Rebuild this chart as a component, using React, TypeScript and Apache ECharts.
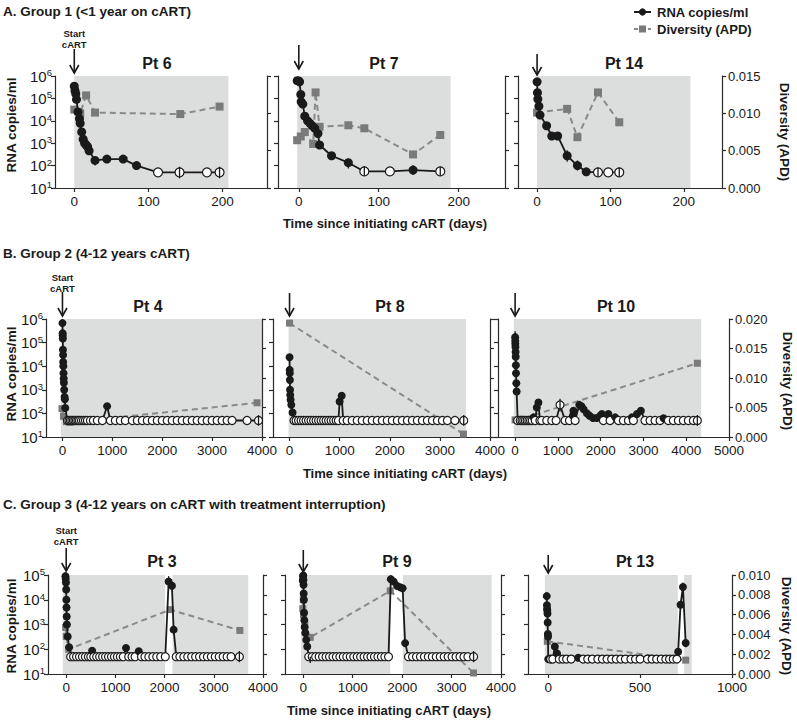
import React, { useEffect, useRef } from "react";
import * as echarts from "echarts";

type Rna = [number, number, number]; // day, copies/ml, detected(1)/undetectable(0)
type Div = [number, number]; // day, APD
type Err = [number, number, number]; // day, low, high
type Band = [number, number]; // on-cART period [start, end] in days

// ---------------- DATA ----------------
const ticksGroup1 = [0, 100, 200];
const ticks4000 = [0, 1000, 2000, 3000, 4000];
const ticks5000 = [0, 1000, 2000, 3000, 4000, 5000];
const ticks1000 = [0, 500, 1000];

// Pt 6
const pt6Rna: Rna[] = [
  [0, 3.5e5, 1], [1, 2.2e5, 1], [2, 1.6e5, 1], [3, 9e4, 1], [5, 2.5e4, 1], [7, 1.25e4, 1],
  [8, 7.7e3, 1], [10, 3.2e3, 1], [12, 1.5e3, 1], [14, 1e3, 1], [16, 830, 1], [18, 700, 1],
  [20, 460, 1], [28, 170, 1], [44, 195, 1], [66, 195, 1], [84, 100, 1], [113, 50, 0],
  [142, 50, 0], [179, 50, 0], [196, 50, 0],
];
const pt6Div: Div[] = [[0, 0.0105], [8, 0.01], [16, 0.0124], [28, 0.0101], [143, 0.0099], [196, 0.0109]];
const pt6Err: Err[] = [[28, 100, 180], [142, 27, 89], [196, 27, 89]];
const pt6Shade: Band[] = [[0, 208]];

// Pt 7
const pt7Rna: Rna[] = [
  [-2, 6.2e5, 1], [0, 6e5, 1], [1, 5.5e5, 1], [2.5, 1.5e5, 1], [3, 7e4, 1], [5, 5.6e4, 1],
  [7.5, 1.6e4, 1], [11, 1e4, 1], [14, 7.7e3, 1], [17, 5.9e3, 1], [20, 4.6e3, 1], [24, 2.7e3, 1],
  [26, 830, 1], [41, 275, 1], [62, 135, 1], [82, 55, 0], [114, 55, 0], [143, 63, 1], [177, 55, 0],
];
const pt7Div: Div[] = [
  [-2, 0.0064], [2.5, 0.0069], [7.5, 0.0075], [18, 0.0059], [21, 0.0128], [26, 0.0082],
  [62, 0.0084], [82, 0.008], [143, 0.0045], [177, 0.0071],
];
const pt7Err: Err[] = [[62, 75, 210], [82, 35, 95], [143, 38, 105], [177, 35, 90]];
const pt7Shade: Band[] = [[-2, 190]];

// Pt 14
const pt14Rna: Rna[] = [
  [0, 5.5e5, 1], [0.5, 1.8e5, 1], [1, 9.3e4, 1], [2.5, 4.5e4, 1], [4, 1.8e4, 1], [13, 6e3, 1],
  [20, 2.1e3, 1], [28, 2.1e3, 1], [41, 275, 1], [55, 100, 1], [67, 53, 1], [83, 50, 0],
  [97, 50, 0], [112, 50, 0],
];
const pt14Div: Div[] = [[0, 0.0101], [41, 0.0106], [55, 0.0068], [83, 0.0128], [112, 0.0088]];
const pt14Err: Err[] = [[41, 150, 480], [55, 60, 170], [83, 32, 80], [112, 32, 80]];
const pt14Shade: Band[] = [[0, 209]];

// Pt 4
const pt4Rna: Rna[] = [
  [0, 6.7e5, 1], [3, 2.5e5, 1], [5, 2e5, 1], [7, 1.5e5, 1], [10, 5e4, 1], [12, 3e4, 1],
  [14, 1.5e4, 1], [17, 1e4, 1], [21, 5e3, 1], [24, 3e3, 1], [28, 2e3, 1], [35, 1e3, 1],
  [42, 500, 1], [49, 400, 1], [56, 170, 1], [100, 50, 0], [130, 50, 0], [160, 50, 0],
  [190, 50, 0], [220, 50, 0], [250, 50, 0], [280, 50, 0], [310, 50, 0], [340, 50, 0],
  [380, 50, 0], [420, 50, 0], [460, 50, 0], [500, 50, 0], [560, 50, 0], [620, 50, 0],
  [700, 50, 0], [800, 50, 0], [895, 200, 1], [960, 50, 0], [1060, 50, 0], [1160, 50, 0],
  [1260, 50, 0], [1400, 50, 0], [1500, 50, 0], [1600, 50, 0], [1700, 50, 0], [1800, 50, 0],
  [1900, 50, 0], [2000, 50, 0], [2100, 50, 0], [2200, 50, 0], [2300, 50, 0], [2400, 50, 0],
  [2500, 50, 0], [2600, 50, 0], [2700, 50, 0], [2800, 50, 0], [2900, 50, 0], [3000, 50, 0],
  [3100, 50, 0], [3200, 50, 0], [3300, 50, 0], [3400, 50, 0], [3700, 50, 0], [3930, 50, 0],
];
const pt4Div: Div[] = [[-10, 0.0048], [20, 0.0035], [80, 0.0026], [150, 0.0025], [3900, 0.0058]];
const pt4Err: Err[] = [[3930, 30, 85]];
const pt4Shade: Band[] = [[-33, 4000]];

// Pt 8
const pt8Rna: Rna[] = [
  [0, 2.4e4, 1], [3, 7e3, 1], [5, 5e3, 1], [7, 2.6e3, 1], [10, 1e3, 1], [14, 600, 1],
  [21, 380, 1], [35, 230, 1], [60, 110, 1], [90, 50, 0], [130, 50, 0], [180, 50, 0],
  [230, 50, 0], [280, 50, 0], [330, 50, 0], [380, 50, 0], [430, 50, 0], [480, 50, 0],
  [530, 50, 0], [580, 50, 0], [630, 50, 0], [680, 50, 0], [730, 50, 0], [780, 50, 0],
  [830, 50, 0], [880, 50, 0], [930, 50, 0], [975, 50, 0], [1000, 320, 1], [1040, 560, 1],
  [1070, 50, 0], [1150, 50, 0], [1250, 50, 0], [1350, 50, 0], [1450, 50, 0], [1550, 50, 0],
  [1650, 50, 0], [1750, 50, 0], [1850, 50, 0], [1950, 50, 0], [2050, 50, 0], [2150, 50, 0],
  [2250, 50, 0], [2350, 50, 0], [2450, 50, 0], [2550, 50, 0], [2650, 50, 0], [2750, 50, 0],
  [2850, 50, 0], [2950, 50, 0], [3050, 50, 0], [3150, 50, 0], [3300, 50, 0], [3476, 50, 0],
];
const pt8Div: Div[] = [[0, 0.0193], [3470, 0.0005]];
const pt8Err: Err[] = [[3476, 30, 85]];
const pt8Shade: Band[] = [[-20, 3520]];

// Pt 10
const pt10Rna: Rna[] = [
  [0, 1.7e5, 1], [3, 1.2e5, 1], [5, 9e4, 1], [7, 6.5e4, 1], [10, 4e4, 1], [14, 2.5e4, 1],
  [18, 1.1e4, 1], [21, 5e3, 1], [28, 1.9e3, 1], [35, 850, 1], [60, 50, 0], [120, 50, 0],
  [160, 50, 0], [200, 50, 0], [240, 50, 0], [280, 50, 0], [320, 50, 0], [360, 50, 0],
  [400, 50, 0], [430, 68, 1], [470, 50, 0], [507, 180, 1], [545, 290, 1], [580, 50, 0],
  [623, 50, 0], [740, 50, 0], [857, 50, 0], [958, 50, 0], [1050, 230, 0], [1168, 50, 0],
  [1270, 50, 0], [1350, 80, 1], [1363, 130, 1], [1402, 50, 0], [1500, 230, 1], [1550, 200, 1],
  [1600, 150, 1], [1680, 100, 1], [1740, 80, 1], [1820, 64, 1], [1910, 64, 1], [1990, 80, 1],
  [2030, 94, 1], [2064, 50, 0], [2180, 94, 1], [2220, 50, 0], [2340, 68, 1], [2415, 50, 0],
  [2531, 50, 0], [2648, 50, 0], [2730, 68, 1], [2765, 50, 0], [2850, 94, 1], [2940, 130, 1],
  [3037, 50, 0], [3154, 50, 0], [3271, 50, 0], [3388, 50, 0], [3470, 62, 1], [3582, 50, 0],
  [3699, 50, 0], [3816, 50, 0], [3933, 50, 0], [4050, 50, 0], [4167, 50, 0], [4260, 50, 0],
];
const pt10Div: Div[] = [[0, 0.0029], [130, 0.003], [4260, 0.0125]];
const pt10Err: Err[] = [[0, 1.7e5, 3e5], [1050, 120, 420], [4260, 30, 85]];
const pt10Shade: Band[] = [[-30, 4350]];

// Pt 3
const pt3Rna: Rna[] = [
  [-15, 9e4, 1], [-10, 7e4, 1], [-5, 5e4, 1], [0, 2.6e4, 1], [3, 1e4, 1], [6, 4.9e3, 1],
  [10, 2.1e3, 1], [14, 1e3, 1], [30, 330, 1], [60, 120, 1], [90, 50, 0], [150, 50, 0],
  [210, 50, 0], [270, 50, 0], [330, 50, 0], [390, 50, 0], [450, 50, 0], [500, 50, 0],
  [527, 87, 1], [560, 50, 0], [620, 50, 0], [680, 50, 0], [740, 50, 0], [800, 50, 0],
  [860, 50, 0], [920, 50, 0], [980, 50, 0], [1040, 50, 0], [1100, 50, 0], [1160, 50, 0],
  [1216, 112, 1], [1270, 50, 0], [1338, 50, 0], [1400, 50, 0], [1474, 83, 1], [1530, 50, 0],
  [1600, 50, 0], [1680, 50, 0], [1760, 50, 0], [1840, 50, 0], [1920, 50, 0], [2014, 50, 0],
  [2082, 5.5e4, 1], [2149, 3.7e4, 1], [2183, 620, 1], [2237, 50, 0], [2310, 50, 0], [2390, 50, 0],
  [2470, 50, 0], [2550, 50, 0], [2630, 50, 0], [2710, 50, 0], [2790, 50, 0], [2870, 50, 0],
  [2950, 50, 0], [3030, 50, 0], [3110, 50, 0], [3190, 50, 0], [3270, 50, 0], [3350, 50, 0],
  [3520, 50, 0],
];
const pt3Div: Div[] = [[-12, 0.0047], [0, 0.0038], [50, 0.0025], [2115, 0.0065], [3530, 0.0044]];
const pt3Err: Err[] = [[2082, 5.5e4, 9e4], [3520, 30, 85]];
const pt3Shade: Band[] = [[-69, 2010], [2160, 3700]];

// Pt 9
const pt9Rna: Rna[] = [
  [-10, 6e4, 1], [-5, 9e4, 1], [0, 9.5e4, 1], [3, 6.3e4, 1], [5, 4e4, 1], [8, 1.8e4, 1],
  [12, 1e4, 1], [16, 3e3, 1], [21, 1.5e3, 1], [28, 780, 1], [40, 450, 1], [60, 240, 1],
  [80, 130, 1], [110, 50, 0], [180, 50, 0], [250, 50, 0], [320, 50, 0], [390, 50, 0],
  [460, 50, 0], [530, 50, 0], [600, 50, 0], [670, 50, 0], [740, 50, 0], [810, 50, 0],
  [880, 50, 0], [950, 50, 0], [1020, 50, 0], [1090, 50, 0], [1160, 50, 0], [1230, 50, 0],
  [1300, 50, 0], [1370, 50, 0], [1440, 50, 0], [1510, 50, 0], [1580, 50, 0], [1650, 50, 0],
  [1724, 50, 0], [1771, 6.7e4, 1], [1830, 5.4e4, 1], [1900, 3.6e4, 1], [1960, 3.2e4, 1],
  [2010, 2.9e4, 1], [2060, 177, 1], [2128, 50, 0], [2210, 50, 0], [2290, 50, 0], [2370, 50, 0],
  [2450, 50, 0], [2530, 50, 0], [2610, 50, 0], [2690, 50, 0], [2770, 50, 0], [2850, 50, 0],
  [2930, 50, 0], [3010, 50, 0], [3090, 50, 0], [3170, 50, 0], [3250, 50, 0], [3330, 50, 0],
  [3445, 50, 0],
];
const pt9Div: Div[] = [
  [-10, 0.0066], [0, 0.0075], [5, 0.006], [30, 0.005], [141, 0.0037], [1760, 0.0084], [3445, 0.0001],
];
const pt9Err: Err[] = [[141, 28, 50], [1771, 6.7e4, 1e5], [3445, 30, 85]];
const pt9Shade: Band[] = [[-47, 1758], [2014, 3812]];

// Pt 13
const pt13Rna: Rna[] = [
  [-8, 1.4e4, 1], [-7, 6e3, 1], [-6, 4.3e3, 1], [-5, 3.7e3, 1], [-4, 2.8e3, 1], [-3, 1.2e3, 1],
  [-2, 410, 1], [-1, 330, 1], [0, 40, 1], [13, 40, 0], [25, 40, 0], [36, 130, 1], [48, 68, 1],
  [60, 40, 0], [80, 40, 0], [100, 40, 0], [125, 40, 0], [163, 45, 1], [190, 40, 0], [215, 40, 0],
  [240, 40, 0], [270, 40, 0], [295, 40, 0], [320, 40, 0], [345, 40, 0], [370, 40, 0],
  [395, 40, 0], [420, 40, 0], [450, 40, 0], [475, 40, 0], [500, 40, 0], [540, 40, 0],
  [565, 40, 0], [590, 40, 0], [615, 40, 0], [640, 40, 0], [660, 40, 0], [680, 40, 0],
  [700, 40, 0], [707, 79, 1], [720, 6.3e3, 1], [733, 3.3e4, 1], [748, 178, 1],
];
const pt13Div: Div[] = [[-5, 0.0033], [748, 0.0014]];
const pt13Err: Err[] = [[733, 3.3e4, 5e4], [748, 120, 270]];
const pt13Shade: Band[] = [[-18, 705], [740, 781]];

// ---------------- LAYOUT ----------------
const FONT = "'Liberation Sans', Arial, Helvetica, sans-serif";
const INK = "#1a1a1a";
const AXIS = "#2a2a2a";
const SHADE = "#dcdddd";
const DIV_LINE = "#8a8a8a";
const DIV_MARK = "#7a7a7a";

const rows = [
  { top: 76, height: 112, logMax: 1e6, divMax: 0.015, divStep: 0.005, dot: 9, sq: 8, titleY: 63 },
  { top: 319, height: 118, logMax: 1e6, divMax: 0.02, divStep: 0.005, dot: 8, sq: 7, titleY: 306 },
  { top: 575, height: 99, logMax: 1e5, divMax: 0.01, divStep: 0.002, dot: 8, sq: 7, titleY: 561 },
];

const panels = [
  { row: 0, col: 0, left: 55, right: 267, xMin: -26, xMax: 260, ticks: ticksGroup1, title: "Pt 6", titleX: 157, arrow: [49, 73], rna: pt6Rna, div: pt6Div, err: pt6Err, shade: pt6Shade },
  { row: 0, col: 1, left: 278, right: 505, xMin: -26, xMax: 258, ticks: ticksGroup1, title: "Pt 7", titleX: 384, arrow: [45, 69], rna: pt7Rna, div: pt7Div, err: pt7Err, shade: pt7Shade },
  { row: 0, col: 2, left: 518, right: 722, xMin: -26, xMax: 252, ticks: ticksGroup1, title: "Pt 14", titleX: 624, arrow: [54, 75], rna: pt14Rna, div: pt14Div, err: pt14Err, shade: pt14Shade },
  { row: 1, col: 0, left: 46, right: 262, xMin: -330, xMax: 4000, ticks: ticks4000, title: "Pt 4", titleX: 148, arrow: [292, 316], rna: pt4Rna, div: pt4Div, err: pt4Err, shade: pt4Shade },
  { row: 1, col: 1, left: 273, right: 490, xMin: -330, xMax: 4000, ticks: ticks4000, title: "Pt 8", titleX: 390, arrow: [293, 316], rna: pt8Rna, div: pt8Div, err: pt8Err, shade: pt8Shade },
  { row: 1, col: 2, left: 498, right: 729, xMin: -400, xMax: 5000, ticks: ticks5000, title: "Pt 10", titleX: 616, arrow: [293, 316], rna: pt10Rna, div: pt10Div, err: pt10Err, shade: pt10Shade },
  { row: 2, col: 0, left: 48, right: 263, xMin: -370, xMax: 4000, ticks: ticks4000, title: "Pt 3", titleX: 162, arrow: [548, 571], rna: pt3Rna, div: pt3Div, err: pt3Err, shade: pt3Shade },
  { row: 2, col: 1, left: 285, right: 501, xMin: -370, xMax: 4000, ticks: ticks4000, title: "Pt 9", titleX: 397, arrow: [550, 572], rna: pt9Rna, div: pt9Div, err: pt9Err, shade: pt9Shade },
  { row: 2, col: 2, left: 528, right: 732, xMin: -110, xMax: 1000, ticks: ticks1000, title: "Pt 13", titleX: 635, arrow: [555, 573], rna: pt13Rna, div: pt13Div, err: pt13Err, shade: pt13Shade },
];

const sections = [
  { text: "A. Group 1 (<1 year on cART)", y: 11 },
  { text: "B. Group 2 (4-12 years cART)", y: 253 },
  { text: "C. Group 3 (4-12 years on cART with treatment interruption)", y: 504 },
];
const rnaNames = [125, 374, 626];
const divNames = [{ x: 784, y: 132 }, { x: 787, y: 381 }, { x: 786, y: 626 }];
const timeNames = [{ x: 385, y: 223 }, { x: 405, y: 473 }, { x: 389, y: 710 }];
const startLabels = [{ p: 0, y: 33 }, { p: 3, y: 277 }, { p: 6, y: 530 }];

function zeroX(p: (typeof panels)[number]) {
  return p.left + ((0 - p.xMin) / (p.xMax - p.xMin)) * (p.right - p.left);
}

function buildOption(): any {
  const grid: any[] = [];
  const xAxis: any[] = [];
  const yAxis: any[] = [];
  const series: any[] = [];
  const graphic: any[] = [];
  const axisLine = { show: true, onZero: false, lineStyle: { color: AXIS, width: 1.2 } };
  const axisTick = { show: true, length: 4, inside: false, lineStyle: { color: AXIS, width: 1.2 } };

  panels.forEach((p, i) => {
    const r = rows[p.row];
    grid.push({ left: p.left, top: r.top, width: p.right - p.left, height: r.height, containLabel: false, outerBoundsMode: "none" });
    xAxis.push({
      type: "value", gridIndex: i, min: p.xMin, max: p.xMax, z: 2,
      axisLine, axisTick: { ...axisTick, customValues: p.ticks },
      axisLabel: {
        customValues: p.ticks, margin: 6, fontSize: 13.5, fontFamily: FONT, color: INK,
        formatter: (v: number) => String(Math.round(v)),
      },
      splitLine: { show: false },
    });
    yAxis.push({
      type: "log", logBase: 10, gridIndex: i, min: 10, max: r.logMax, position: "left", z: 2,
      axisLine, axisTick, splitLine: { show: false }, minorTick: { show: false },
      axisLabel: {
        show: p.col === 0, margin: 3,
        formatter: (v: number) => `{a|10}{b|${Math.round(Math.log10(v))}}`,
        rich: {
          a: { fontSize: 15, fontFamily: FONT, color: INK },
          b: { fontSize: 9.5, fontFamily: FONT, color: INK, padding: [0, 0, 7, 0] },
        },
      },
    });
    yAxis.push({
      type: "value", gridIndex: i, min: 0, max: r.divMax, interval: r.divStep, position: "right", z: 2,
      axisLine, axisTick, splitLine: { show: false },
      axisLabel: { show: p.col === 2, margin: 6, fontSize: 13, fontFamily: FONT, color: INK, formatter: (v: number) => v.toFixed(3) },
    });

    series.push({
      type: "line", xAxisIndex: i, yAxisIndex: 2 * i + 1, data: p.div, z: 3,
      symbol: "rect", symbolSize: r.sq, showAllSymbol: true,
      lineStyle: { color: DIV_LINE, width: 2, type: [6, 4] },
      itemStyle: { color: DIV_MARK },
      markArea: {
        silent: true, z: 1,
        itemStyle: { color: SHADE },
        data: p.shade.map(([a, b]) => [{ xAxis: a }, { xAxis: b }]),
      },
    });
    series.push({
      type: "line", xAxisIndex: i, yAxisIndex: 2 * i, z: 4,
      symbol: "circle", symbolSize: r.dot, showAllSymbol: true,
      lineStyle: { color: INK, width: 1.8 },
      data: p.rna.map(([d, v, det]) => ({
        value: [d, v],
        itemStyle: det
          ? { color: INK, borderColor: INK, borderWidth: 0 }
          : { color: "#ffffff", borderColor: INK, borderWidth: 1.2 },
      })),
    });
    series.push({
      type: "custom", xAxisIndex: i, yAxisIndex: 2 * i, z: 5, silent: true,
      data: p.err, encode: { x: 0, y: [1, 2] },
      renderItem: (_params: any, api: any) => {
        const a = api.coord([api.value(0), api.value(1)]);
        const b = api.coord([api.value(0), api.value(2)]);
        return { type: "line", shape: { x1: a[0], y1: a[1], x2: b[0], y2: b[1] }, style: { stroke: INK, lineWidth: 1.3 } };
      },
    });

    graphic.push({
      type: "text", x: p.titleX, y: r.titleY,
      style: { text: p.title, font: `bold 16px ${FONT}`, fill: INK, align: "center", verticalAlign: "middle" },
    });
    const zx = zeroX(p);
    graphic.push({ type: "line", shape: { x1: zx, y1: p.arrow[0], x2: zx, y2: p.arrow[1] }, style: { stroke: INK, lineWidth: 1.6 } });
    graphic.push({
      type: "polyline",
      shape: { points: [[zx - 4.5, p.arrow[1] - 8], [zx, p.arrow[1]], [zx + 4.5, p.arrow[1] - 8]] },
      style: { stroke: INK, lineWidth: 1.6, fill: null },
    });
  });

  startLabels.forEach((s) => {
    const zx = zeroX(panels[s.p]);
    graphic.push({ type: "text", x: zx, y: s.y, style: { text: "Start", font: `bold 9.5px ${FONT}`, fill: INK, align: "center", verticalAlign: "middle" } });
    graphic.push({ type: "text", x: zx, y: s.y + 11, style: { text: "cART", font: `bold 9.5px ${FONT}`, fill: INK, align: "center", verticalAlign: "middle" } });
  });

  sections.forEach((s) => {
    graphic.push({ type: "text", x: 3, y: s.y, style: { text: s.text, font: `bold 13.5px ${FONT}`, fill: INK, align: "left", verticalAlign: "middle" } });
  });
  rnaNames.forEach((y) => {
    graphic.push({ type: "text", x: 11, y, rotation: Math.PI / 2, style: { text: "RNA copies/ml", font: `bold 13.5px ${FONT}`, fill: INK, align: "center", verticalAlign: "middle" } });
  });
  divNames.forEach((d) => {
    graphic.push({ type: "text", x: d.x, y: d.y, rotation: -Math.PI / 2, style: { text: "Diversity (APD)", font: `bold 13.5px ${FONT}`, fill: INK, align: "center", verticalAlign: "middle" } });
  });
  timeNames.forEach((t) => {
    graphic.push({ type: "text", x: t.x, y: t.y, style: { text: "Time since initiating cART (days)", font: `bold 13px ${FONT}`, fill: INK, align: "center", verticalAlign: "middle" } });
  });

  graphic.push({ type: "line", shape: { x1: 634, y1: 12, x2: 651, y2: 12 }, style: { stroke: INK, lineWidth: 2 } });
  graphic.push({ type: "circle", shape: { cx: 642.5, cy: 12, r: 3.6 }, style: { fill: INK } });
  graphic.push({ type: "text", x: 657, y: 12, style: { text: "RNA copies/ml", font: `bold 13px ${FONT}`, fill: INK, align: "left", verticalAlign: "middle" } });
  graphic.push({ type: "line", shape: { x1: 634, y1: 29, x2: 651, y2: 29 }, style: { stroke: DIV_LINE, lineWidth: 2, lineDash: [4, 3] } });
  graphic.push({ type: "rect", shape: { x: 639, y: 25.5, width: 7, height: 7 }, style: { fill: DIV_MARK } });
  graphic.push({ type: "text", x: 657, y: 29, style: { text: "Diversity (APD)", font: `bold 13px ${FONT}`, fill: INK, align: "left", verticalAlign: "middle" } });

  return { animation: false, backgroundColor: "#ffffff", grid, xAxis, yAxis, series, graphic, tooltip: { show: false } };
}

export default function App() {
  const ref = useRef<HTMLDivElement>(null);
  useEffect(() => {
    document.body.style.margin = "0";
    const chart = echarts.init(ref.current!, null, { renderer: "svg" });
    chart.setOption(buildOption());
    return () => chart.dispose();
  }, []);
  return <div ref={ref} style={{ width: 797, height: 721 }} />;
}
